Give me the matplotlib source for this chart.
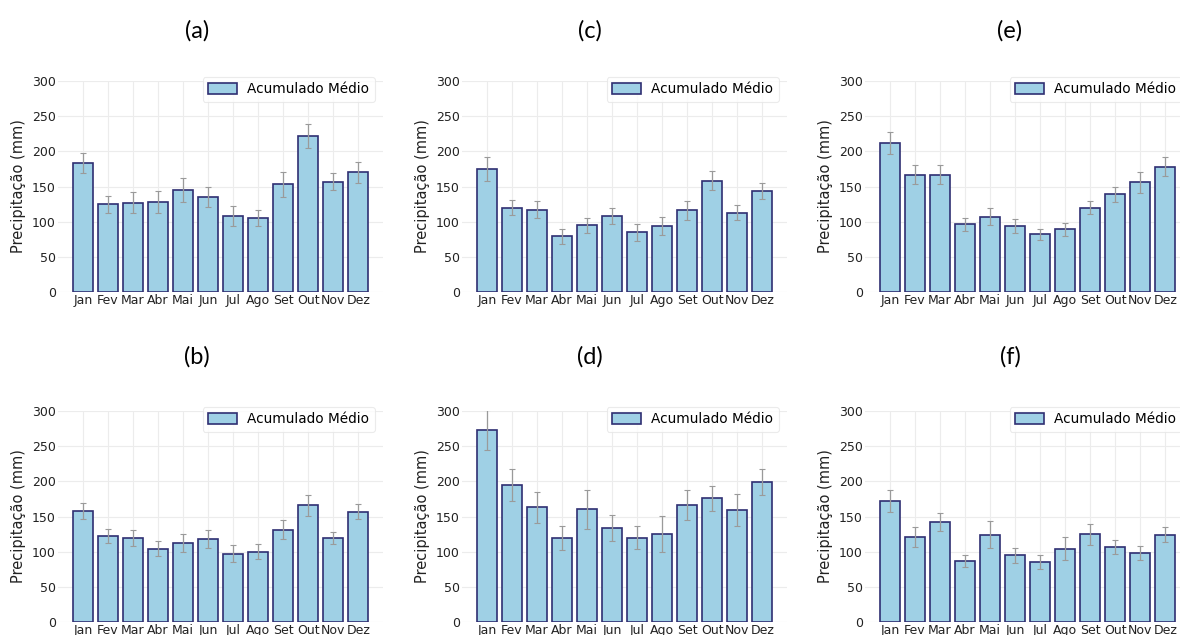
import numpy as np
import matplotlib
matplotlib.use("Agg")
import matplotlib.pyplot as plt

meses = ['Jan', 'Fev', 'Mar', 'Abr', 'Mai', 'Jun', 'Jul', 'Ago', 'Set', 'Out', 'Nov', 'Dez']

# media mensal e erro por painel
media_a = [183, 125, 127, 128, 145, 135, 108, 105, 153, 222, 157, 170]
erro_a = [14.5, 12, 15, 15.5, 17.5, 14, 14, 11, 17.5, 17.5, 11.5, 15]
media_b = [158, 122, 119, 104, 112, 118, 97, 100, 131, 166, 120, 157]
erro_b = [11.5, 10, 11.5, 10.5, 12.5, 13, 12, 10.5, 13.5, 15, 8.5, 11]
media_c = [175, 120, 117, 79, 95, 108, 85, 94, 116, 158, 113, 144]
erro_c = [16.5, 11, 12, 10.5, 10.5, 12, 12, 12.5, 14, 13.5, 11, 11.5]
media_d = [273, 195, 163, 119, 160, 134, 120, 125, 166, 176, 159, 199]
erro_d = [29, 23, 22, 17, 28, 18.5, 16.5, 25.5, 21, 18, 22.5, 19]
media_e = [212, 167, 167, 96, 107, 94, 82, 89, 120, 139, 156, 178]
erro_e = [16, 13.5, 13.5, 9, 12, 9.5, 7.5, 9.5, 9, 11, 15, 13.5]
media_f = [172, 121, 142, 87, 124, 95, 85, 104, 125, 107, 98, 124]
erro_f = [16, 14, 13, 8.5, 19, 10.5, 10, 16.5, 15, 10, 10, 10.5]

W, H = 1180, 635
fig = plt.figure(figsize=(W / 100, H / 100), dpi=100)

paineis = [
    ('(a)', media_a, erro_a, 58, 81, 197, 31),
    ('(c)', media_c, erro_c, 462, 81, 590, 31),
    ('(e)', media_e, erro_e, 865, 81, 1010, 31),
    ('(b)', media_b, erro_b, 58, 411, 197, 357),
    ('(d)', media_d, erro_d, 462, 411, 590, 357),
    ('(f)', media_f, erro_f, 865, 411, 1010, 357),
]

ax_w, ax_h = 325, 211
x = np.arange(len(meses))

for titulo, media, erro, left, top, tx, ty in paineis:
    ax = fig.add_axes([left / W, (H - top - ax_h) / H, ax_w / W, ax_h / H])
    ax.set_axisbelow(True)
    ax.grid(True, color='#ececec', linewidth=0.8)
    ax.bar(x, media, width=0.8, color='#9fd0e5', edgecolor='#2f2f72',
           linewidth=1.2, label='Acumulado Médio')
    ax.errorbar(x, media, yerr=erro, fmt='none', ecolor='#9a9a9a',
                elinewidth=0.9, capsize=2, capthick=0.8)
    ax.set_xticks(x)
    ax.set_xticklabels(meses)
    ax.set_ylim(0, 300)
    ax.set_yticks([0, 50, 100, 150, 200, 250, 300])
    ax.tick_params(length=0, pad=1.5, labelsize=9, colors='#222222')
    ax.set_ylabel('Precipitação (mm)', fontsize=10.5, color='#222222', labelpad=4)
    for s in ax.spines.values():
        s.set_visible(False)
    leg = ax.legend(loc='upper right', bbox_to_anchor=(0.975, 1.02), fontsize=9.8,
                    frameon=True, borderaxespad=0, handlelength=2.1, handleheight=0.8)
    leg.get_frame().set_edgecolor('#e6e6e6')
    leg.get_frame().set_linewidth(0.8)
    fig.text(tx / W, 1 - ty / H, titulo, ha='center', va='center',
             fontsize=17, family=['Lato', 'DejaVu Sans'])

fig.savefig('out.png', dpi=100)
